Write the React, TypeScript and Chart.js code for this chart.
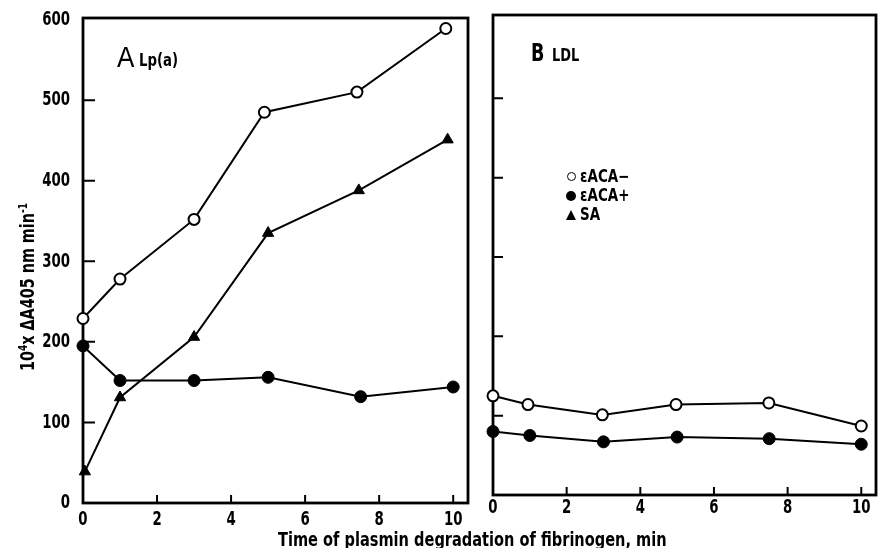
import React, { useEffect, useRef } from "react";
import { Chart, registerables } from "chart.js";
Chart.register(...registerables);

const FONT = "'DejaVu Sans Condensed', 'DejaVu Sans', sans-serif";

const xTicks = [0, 2, 4, 6, 8, 10];
const yTicks = [0, 100, 200, 300, 400, 500, 600];

// Panel A – Lp(a)
const aOpenX = [0, 1, 3, 4.9, 7.4, 9.8];
const aOpenY = [229, 278, 352, 485, 510, 589];
const aFilledX = [0, 1, 3, 5, 7.5, 10];
const aFilledY = [195, 152, 152, 156, 132, 144];
const aTriX = [0.05, 1, 3, 5, 7.45, 9.85];
const aTriY = [39, 131, 206, 335, 388, 451];

// Panel B – LDL
const bOpenX = [0, 0.95, 2.97, 4.97, 7.49, 10];
const bOpenY = [125, 114, 101, 114, 116, 87];
const bFilledX = [0, 1, 3, 5, 7.5, 10];
const bFilledY = [80, 75, 67, 73, 71, 64];

const pts = (xs: number[], ys: number[]) => xs.map((x, i) => ({ x, y: ys[i] }));

const baseDs = {
  borderColor: "#000",
  borderWidth: 2,
  pointBorderColor: "#000",
  clip: false,
  tension: 0,
};
const openDs = (xs: number[], ys: number[]) => ({
  ...baseDs,
  data: pts(xs, ys),
  pointStyle: "circle",
  pointRadius: 5.5,
  pointBorderWidth: 2,
  pointBackgroundColor: "#fff",
});
const filledDs = (xs: number[], ys: number[]) => ({
  ...baseDs,
  data: pts(xs, ys),
  pointStyle: "circle",
  pointRadius: 6,
  pointBorderWidth: 1,
  pointBackgroundColor: "#000",
});
const triDs = (xs: number[], ys: number[]) => ({
  ...baseDs,
  data: pts(xs, ys),
  pointStyle: "triangle",
  pointRadius: 6.5,
  pointBorderWidth: 1,
  pointBackgroundColor: "#000",
});

function squeezedText(ctx: any, s: string, x: number, y: number, align: string) {
  ctx.save();
  ctx.translate(x, y);
  ctx.scale(0.74, 1);
  ctx.textAlign = align;
  ctx.textBaseline = "middle";
  ctx.fillText(s, 0, 0);
  ctx.restore();
}

const framePlugin = (yTickLen: number, xTickLen: number, showY: boolean, xLabelOff: number) => ({
  id: "frame",
  beforeDatasetsDraw(chart: any) {
    const { ctx, chartArea: a, scales } = chart;
    ctx.save();
    ctx.strokeStyle = "#000";
    ctx.lineWidth = 2.8;
    ctx.strokeRect(a.left, a.top, a.right - a.left, a.bottom - a.top);
    ctx.lineWidth = 2;
    ctx.beginPath();
    for (const v of yTicks) {
      if (v === 0 || v === 600) continue;
      const y = scales.y.getPixelForValue(v);
      ctx.moveTo(a.left, y);
      ctx.lineTo(a.left + yTickLen, y);
    }
    for (const v of xTicks) {
      if (v === 0) continue;
      const x = scales.x.getPixelForValue(v);
      ctx.moveTo(x, a.bottom);
      ctx.lineTo(x, a.bottom - xTickLen);
    }
    ctx.stroke();

    ctx.fillStyle = "#000";
    ctx.font = `bold 20px ${FONT}`;
    for (const v of xTicks) {
      squeezedText(ctx, String(v), scales.x.getPixelForValue(v), a.bottom + xLabelOff, "center");
    }
    if (showY) {
      for (const v of yTicks) {
        squeezedText(ctx, String(v), a.left - 13, scales.y.getPixelForValue(v), "right");
      }
    }
    ctx.restore();
  },
});

function makeOptions(cfg: { yMax: number; yWidth: number; xHeight: number; top: number; right: number }) {
  return {
    animation: false,
    responsive: true,
    maintainAspectRatio: false,
    layout: { padding: { top: cfg.top, right: cfg.right, left: 0, bottom: 0 } },
    plugins: { legend: { display: false }, tooltip: { enabled: false } },
    scales: {
      x: {
        type: "linear",
        min: 0,
        max: 10.4,
        afterBuildTicks: (s: any) => {
          s.ticks = xTicks.map((v) => ({ value: v }));
        },
        afterFit: (s: any) => {
          s.height = cfg.xHeight;
        },
        grid: { display: false, drawTicks: false },
        border: { display: false },
        ticks: { display: false },
      },
      y: {
        type: "linear",
        min: 0,
        max: cfg.yMax,
        afterBuildTicks: (s: any) => {
          s.ticks = yTicks.map((v) => ({ value: v }));
        },
        afterFit: (s: any) => {
          s.width = cfg.yWidth;
        },
        grid: { display: false, drawTicks: false },
        border: { display: false },
        ticks: { display: false },
      },
    },
  } as any;
}

export default function App() {
  const refA = useRef<HTMLCanvasElement>(null);
  const refB = useRef<HTMLCanvasElement>(null);

  useEffect(() => {
    const chartA = new Chart(refA.current!, {
      type: "line",
      data: {
        datasets: [openDs(aOpenX, aOpenY), filledDs(aFilledX, aFilledY), triDs(aTriX, aTriY)] as any,
      },
      options: makeOptions({ yMax: 602, yWidth: 83, xHeight: 45, top: 18, right: 12 }),
      plugins: [framePlugin(12, 8, true, 17)],
    });
    const chartB = new Chart(refB.current!, {
      type: "line",
      data: {
        datasets: [openDs(bOpenX, bOpenY), filledDs(bFilledX, bFilledY)] as any,
      },
      options: makeOptions({ yMax: 605, yWidth: 13, xHeight: 53, top: 15, right: 12 }),
      plugins: [framePlugin(10, 8, false, 13)],
    });
    return () => {
      chartA.destroy();
      chartB.destroy();
    };
  }, []);

  const squeeze = (s: number): React.CSSProperties => ({
    display: "inline-block",
    transform: `scaleX(${s})`,
    transformOrigin: "left center",
  });

  const legendRow = (marker: React.ReactNode, label: string) => (
    <div style={{ display: "flex", alignItems: "center", height: 19 }}>
      <span style={{ width: 12, display: "inline-flex", justifyContent: "center" }}>{marker}</span>
      <span style={{ marginLeft: 3, ...squeeze(0.88) }}>{label}</span>
    </div>
  );

  return (
    <div
      style={{
        position: "fixed",
        left: 0,
        top: 0,
        width: 878,
        height: 548,
        background: "#fff",
        overflow: "hidden",
        fontFamily: FONT,
        color: "#000",
      }}
    >
      <div style={{ position: "absolute", left: 0, top: 0, width: 480, height: 548 }}>
        <canvas ref={refA} />
      </div>
      <div style={{ position: "absolute", left: 480, top: 0, width: 408, height: 548 }}>
        <canvas ref={refB} />
      </div>

      <div style={{ position: "absolute", left: 117, top: 43, whiteSpace: "nowrap", lineHeight: 1 }}>
        <span style={{ fontSize: 29, fontFamily: "'Liberation Sans', sans-serif", ...squeeze(0.9) }}>A</span>
      </div>
      <div style={{ position: "absolute", left: 139, top: 51, whiteSpace: "nowrap", lineHeight: 1 }}>
        <span style={{ fontSize: 18, fontWeight: "bold", ...squeeze(0.82) }}>Lp(a)</span>
      </div>
      <div style={{ position: "absolute", left: 531, top: 40, whiteSpace: "nowrap", lineHeight: 1 }}>
        <span style={{ fontSize: 25, fontWeight: "bold", ...squeeze(0.78) }}>B</span>
      </div>
      <div style={{ position: "absolute", left: 552, top: 46, whiteSpace: "nowrap", lineHeight: 1 }}>
        <span style={{ fontSize: 18, fontWeight: "bold", ...squeeze(0.8) }}>LDL</span>
      </div>

      <div style={{ position: "absolute", left: 565, top: 167, fontSize: 17, fontWeight: "bold", lineHeight: 1 }}>
        {legendRow(
          <span
            style={{ width: 7, height: 7, borderRadius: "50%", border: "1.5px solid #000", display: "inline-block" }}
          />,
          "\u03b5ACA\u2212"
        )}
        {legendRow(
          <span style={{ width: 10, height: 10, borderRadius: "50%", background: "#000", display: "inline-block" }} />,
          "\u03b5ACA+"
        )}
        {legendRow(
          <span
            style={{
              width: 0,
              height: 0,
              borderLeft: "5px solid transparent",
              borderRight: "5px solid transparent",
              borderBottom: "10px solid #000",
              display: "inline-block",
            }}
          />,
          "SA"
        )}
      </div>

      <div
        style={{
          position: "absolute",
          left: 278,
          top: 529,
          whiteSpace: "nowrap",
          fontSize: 20,
          fontWeight: "bold",
          lineHeight: 1,
        }}
      >
        <span style={squeeze(0.81)}>Time of plasmin degradation of fibrinogen, min</span>
      </div>

      <div
        style={{
          position: "absolute",
          left: 23 - 150,
          top: 287 - 12,
          width: 300,
          height: 24,
          lineHeight: "24px",
          textAlign: "center",
          transform: "rotate(-90deg) scaleX(0.84)",
          fontSize: 19,
          fontWeight: "bold",
          whiteSpace: "nowrap",
        }}
      >
        10<sup style={{ fontSize: 12 }}>4</sup>x &Delta;A405 nm min<sup style={{ fontSize: 12 }}>-1</sup>
      </div>
    </div>
  );
}
